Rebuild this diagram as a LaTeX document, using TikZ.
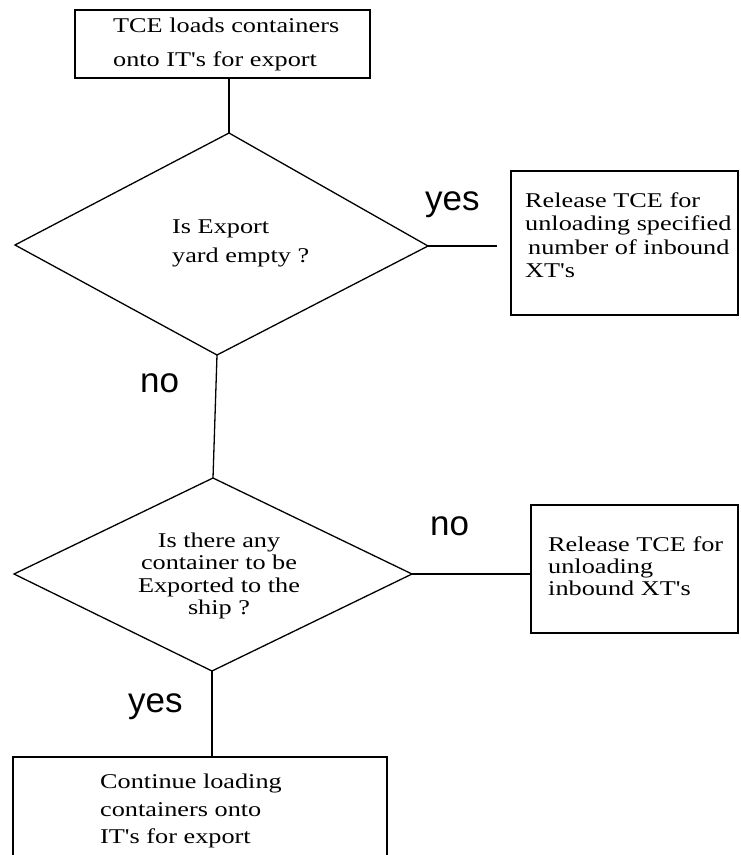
\documentclass[tikz,border=0pt]{standalone}
\usepackage{fontspec}
\setmainfont{Liberation Serif}[FakeStretch=1.25, Ligatures=TeXOff]
\newfontfamily\labelfont{Liberation Sans}
\begin{document}
\begin{tikzpicture}[x=1pt,y=-1pt,
  procbox/.style={draw, line width=1.3pt, inner sep=0pt, rectangle},
  decisionline/.style={draw, line width=1.3pt, line join=miter},
  link/.style={draw, line width=1.3pt},
  boxtext/.style={inner sep=0pt, align=left},
  difftext/.style={inner sep=0pt, align=center},
  lbl/.style={inner sep=0pt, font=\labelfont\fontsize{35}{35}\selectfont}]
\useasboundingbox (0,0) rectangle (740,855);
\clip (0,0) rectangle (740,855);

% process boxes
\node[procbox, minimum width=295pt, minimum height=68pt] (load) at (222.5,44) {};
\node[boxtext, anchor=west, font=\fontsize{21}{34}\selectfont] (loadtxt) at (113,44)
  {TCE loads containers\\onto IT's for export};

\node[procbox, minimum width=227pt, minimum height=144pt] (relA) at (624.5,243) {};
\node[boxtext, anchor=west, font=\fontsize{21}{23.5}\selectfont] (relAtxt) at (525,235)
  {Release TCE for\\unloading specified\\\hspace{3pt}number of inbound\\XT's};

\node[procbox, minimum width=207pt, minimum height=128pt] (relB) at (634.5,569) {};
\node[boxtext, anchor=west, font=\fontsize{21}{22}\selectfont] (relBtxt) at (548,566)
  {Release TCE for\\unloading\\inbound XT's};

\node[procbox, minimum width=374pt, minimum height=123pt] (cont) at (200,818.5) {};
\node[boxtext, anchor=west, font=\fontsize{21}{27.5}\selectfont] (conttxt) at (100,811)
  {Continue loading\\containers onto\\IT's for export};

% first decision
\coordinate (d1n) at (229,133);
\coordinate (d1e) at (428,246);
\coordinate (d1s) at (217,355);
\coordinate (d1w) at (15,245);
\draw[decisionline] (d1n) -- (d1e) -- (d1s) -- (d1w) -- cycle;
\node[boxtext, anchor=west, font=\fontsize{21}{29}\selectfont] (d1txt) at (172,243)
  {Is Export\\yard empty ?};

% second decision
\coordinate (d2n) at (213,478);
\coordinate (d2e) at (412,574);
\coordinate (d2s) at (212,671);
\coordinate (d2w) at (14,574);
\draw[decisionline] (d2n) -- (d2e) -- (d2s) -- (d2w) -- cycle;
\node[difftext, font=\fontsize{21}{22.5}\selectfont] (d2txt) at (219,576)
  {Is there any\\container to be\\Exported to the\\ship ?};

% connectors
\coordinate (yesend) at (497,246);
\draw[link] (load.south -| d1n) -- (d1n);
\draw[link] (d1e) -- (yesend);
\draw[link] (d1s) -- (d2n);
\draw[link] (d2e) -- (d2e -| relB.west);
\draw[link] (d2s) -- (d2s |- cont.north);

% branch labels
\node[lbl, anchor=base west] (yesA) at (425,210) {yes};
\node[lbl, anchor=base west] (noA) at (140,392) {no};
\node[lbl, anchor=base west] (noB) at (430,535) {no};
\node[lbl, anchor=base west] (yesB) at (128,712) {yes};
\end{tikzpicture}
\end{document}
